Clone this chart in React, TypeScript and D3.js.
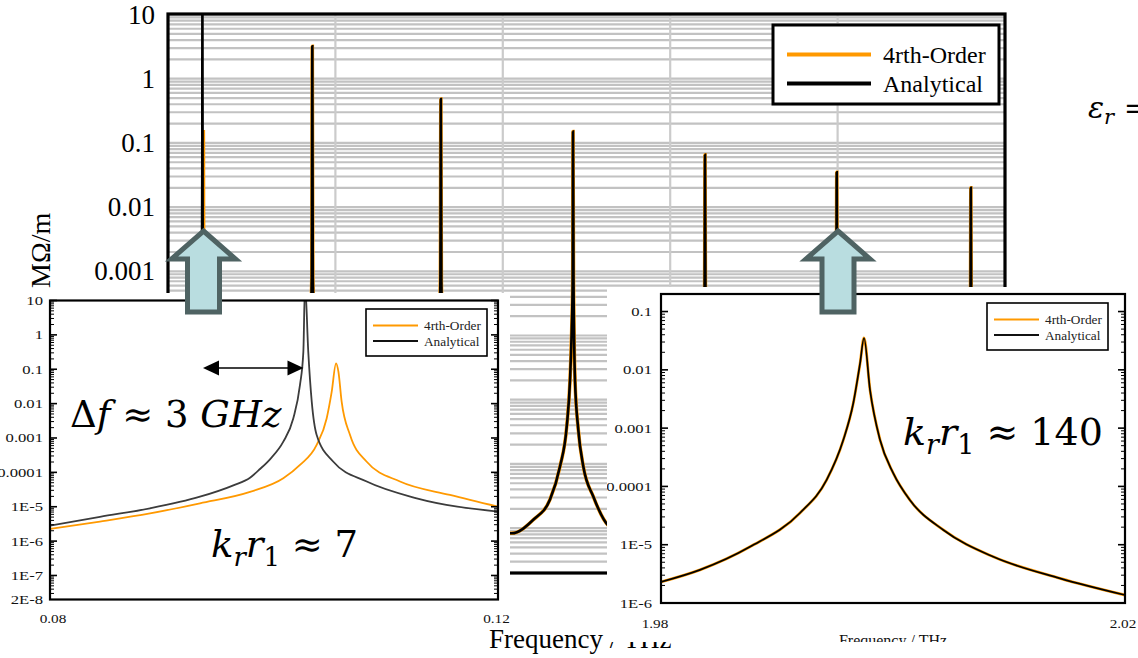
import React from "react";
import * as d3 from "d3";

type P = [number, number];

// ---------- Main chart (background) ----------
const mainYTickValues = [10, 1, 0.1, 0.01, 0.001, 1e-4, 1e-5, 1e-6, 1e-7];
const mainYTickLabels = ["10", "1", "0.1", "0.01", "0.001", "0.0001", "1E-5", "1E-6", "1E-7"];
const mainXTickValues = [0, 0.5, 1, 1.5, 2, 2.5];
const mainXTickLabels = ["0", "0.5", "1", "1.5", "2", "2.5"];
const mainGridX = [0.5, 1, 1.5, 2];
const seriesNames = ["4rth-Order", "Analytical"];
const seriesColors = ["#FF9900", "#000000"];

// [frequency THz, impedance MΩ/m]
const mainAnalytical: P[] = [
  [0.0, 3e-7], [0.06, 1.2e-6], [0.08, 2.8e-6], [0.0934, 1.96e-5], [0.0996, 2.4e-4],
  [0.1017, 3.7e-3], [0.1023, 0.035], [0.1028, 30], [0.1034, 0.0114], [0.1038, 1.2e-3],
  [0.1083, 5.4e-5], [0.12, 7.2e-6],
  [0.2, 5e-7], [0.32, 3e-7], [0.39, 1.2e-6], [0.42, 2.5e-5], [0.4295, 8e-4], [0.431, 3.2],
  [0.4325, 8e-4], [0.442, 2.5e-5], [0.48, 1.2e-6], [0.62, 1.5e-7], [0.77, 1e-6],
  [0.805, 2e-5], [0.8135, 7e-4], [0.815, 0.48], [0.8165, 7e-4], [0.825, 2e-5], [0.86, 1e-6],
  [1.0266, 8.3e-8], [1.0911, 1.35e-7], [1.141, 2.8e-7], [1.1708, 9.1e-7], [1.1909, 3.8e-6],
  [1.2007, 2e-5], [1.2058, 1.2e-4], [1.2088, 7.4e-4], [1.2097, 0.15], [1.2112, 7e-4],
  [1.2157, 2e-5], [1.2255, 3.4e-6], [1.2405, 9.1e-7], [1.2703, 3.1e-7], [1.3151, 1.1e-7],
  [1.42, 6e-8], [1.56, 1e-6], [1.595, 2e-5], [1.6028, 6e-4], [1.604, 0.065], [1.6052, 6e-4],
  [1.613, 2e-5], [1.65, 1e-6], [1.8, 5e-8], [1.95, 1.5e-6], [1.99, 2.5e-5], [1.9965, 1e-3],
  [1.9975, 0.035], [1.9985, 1e-3], [2.005, 2.5e-5], [2.04, 1.2e-6], [2.2, 4e-8],
  [2.35, 1e-6], [2.39, 2e-5], [2.397, 5e-4], [2.398, 0.02], [2.399, 5e-4], [2.406, 2e-5],
  [2.45, 1e-6], [2.5, 3e-7],
];
const mainFourthFirstPeak: P[] = [
  [0.0, 2.5e-7], [0.06, 1e-6], [0.08, 2.25e-6], [0.0934, 1.26e-5], [0.1008, 6.7e-5],
  [0.1038, 6.3e-4], [0.1047, 3.7e-3], [0.10515, 0.022], [0.1055, 0.149], [0.10575, 0.085],
  [0.106, 0.0114], [0.1068, 1.22e-3], [0.1083, 2e-4], [0.1113, 5.4e-5], [0.12, 1e-5],
];
const mainFourth: P[] = [...mainFourthFirstPeak, ...mainAnalytical.filter((d) => d[0] > 0.15)];

// ---------- Left inset (kr r1 ≈ 7) ----------
const leftYTickValues = [10, 1, 0.1, 0.01, 0.001, 1e-4, 1e-5, 1e-6, 1e-7, 2e-8];
const leftYTickLabels = ["10", "1", "0.1", "0.01", "0.001", "0.0001", "1E-5", "1E-6", "1E-7", "2E-8"];
const leftXTickValues = [0.08, 0.12];
const leftXTickLabels = ["0.08", "0.12"];
const leftAnalytical: P[] = [
  [0.08, 2.8e-6], [0.08446, 5.1e-6], [0.08893, 9e-6], [0.09339, 1.96e-5], [0.09637, 4.2e-5],
  [0.09786, 7e-5], [0.09875, 1.25e-4], [0.09964, 2.4e-4], [0.10083, 7.8e-4],
  [0.10172, 3.7e-3], [0.10232, 0.035], [0.10262, 0.32], [0.10277, 30], [0.10306, 0.32],
  [0.10337, 0.0114], [0.10381, 1.22e-3], [0.1053, 2.04e-4], [0.10828, 5.4e-5],
  [0.11274, 1.76e-5], [0.12, 7.2e-6],
];
const leftFourth: P[] = [
  [0.08, 2.25e-6], [0.08446, 3.7e-6], [0.08893, 6.4e-6], [0.09339, 1.26e-5], [0.09786, 2.7e-5],
  [0.10083, 6.7e-5], [0.10232, 1.64e-4], [0.10381, 6.3e-4],
  [0.1047, 3.7e-3], [0.10515, 0.022], [0.10554, 0.149], [0.10575, 0.085], [0.10604, 0.0114],
  [0.10679, 1.22e-3], [0.10828, 2.04e-4], [0.11125, 5.4e-5], [0.11571, 2.2e-5], [0.12, 1e-5],
];

// ---------- Right inset (kr r1 ≈ 140) ----------
const rightYTickValues = [0.1, 0.01, 0.001, 1e-4, 1e-5, 1e-6];
const rightYTickLabels = ["0.1", "0.01", "0.001", "0.0001", "1E-5", "1E-6"];
const rightXTickValues = [1.98, 2.02];
const rightXTickLabels = ["1.98", "2.02"];
const rightAnalytical: P[] = [
  [1.98, 2.3e-6], [1.98336, 3.7e-6], [1.98767, 9.2e-6], [1.99198, 3.5e-5], [1.99428, 1.29e-4],
  [1.99572, 6.3e-4], [1.99658, 2.7e-3], [1.99716, 0.0129], [1.9975, 0.0352], [1.99802, 4.5e-3],
  [1.99888, 6.3e-4], [2.00003, 1.68e-4], [2.00147, 5.8e-5], [2.00434, 1.79e-5],
  [2.00865, 6.2e-6], [2.0144, 2.65e-6], [2.02, 1.37e-6],
];
const rightFourth: P[] = rightAnalytical;

// ---------- scales ----------
const mainX = d3.scaleLinear().domain([0, 2.5]).range([168, 1005]);
const mainY = d3.scaleLog().domain([2e-8, 10]).range([573, 14.5]);
const lx = d3.scaleLinear().domain([0.08, 0.12]).range([50, 498]);
const ly = d3.scaleLog().domain([2e-8, 10]).range([599.5, 300.5]);
const rx = d3.scaleLinear().domain([1.98, 2.02]).range([661, 1125]);
const ry = d3.scaleLog().domain([1e-6, 0.2]).range([603, 294]);

const isDecade = (v: number) => Math.abs(Math.log10(v) - Math.round(Math.log10(v))) < 1e-6;

function mkLine(sx: any, sy: any, curve: any) {
  return d3.line<P>().x((d) => sx(d[0])).y((d) => sy(d[1])).curve(curve);
}

const serif = "'Liberation Serif', 'Times New Roman', serif";
const mathFont = "'DejaVu Serif', serif";

function UpArrow({ cx }: { cx: number }) {
  const tip = 231, base = 259, bottom = 312, hh = 32, sh = 16;
  const pts = [
    [cx, tip], [cx + hh, base], [cx + sh, base], [cx + sh, bottom],
    [cx - sh, bottom], [cx - sh, base], [cx - hh, base],
  ].map((p) => p.join(",")).join(" ");
  return <polygon points={pts} fill="#b9dde0" stroke="#4f6363" strokeWidth={5} strokeLinejoin="miter" />;
}

function InsetAxes({ sx, sy, x0, x1, y0, y1, yVals, yLabels, xVals, xLabels, xOffsets, labelRight, xLabelY }: any) {
  const ticks = sy.ticks();
  return (
    <g>
      {ticks.map((v: number, i: number) => {
        const y = sy(v);
        const len = isDecade(v) ? 7 : 4;
        const w = isDecade(v) ? 1.6 : 1;
        return (
          <g key={"t" + i}>
            <line x1={x0} x2={x0 + len} y1={y} y2={y} stroke="#000" strokeWidth={w} />
            <line x1={x1} x2={x1 - len} y1={y} y2={y} stroke="#000" strokeWidth={w} />
          </g>
        );
      })}
      <rect x={x0} y={y0} width={x1 - x0} height={y1 - y0} fill="none" stroke="#000" strokeWidth={2.2} />
      {yVals.map((v: number, i: number) => (
        <text key={"yl" + i} transform={`translate(${labelRight},${sy(v) + 4.5}) scale(1.28,1)`}
          textAnchor="end" fontFamily={serif} fontSize={13} fill="#111">{yLabels[i]}</text>
      ))}
      {xVals.map((v: number, i: number) => (
        <text key={"xl" + i} transform={`translate(${sx(v) + xOffsets[i]},${xLabelY}) scale(1.22,1)`}
          textAnchor="middle" fontFamily={serif} fontSize={12.5} fill="#111">{xLabels[i]}</text>
      ))}
    </g>
  );
}

function SmallLegend({ x, y }: { x: number; y: number }) {
  return (
    <g>
      <rect x={x} y={y} width={121} height={47} fill="#fff" stroke="#000" strokeWidth={1.6} />
      {seriesNames.map((n, i) => (
        <g key={n}>
          <line x1={x + 7} x2={x + 52} y1={y + 16.5 + i * 15.5} y2={y + 16.5 + i * 15.5}
            stroke={i === 0 ? seriesColors[0] : "#111"} strokeWidth={1.8} />
          <text x={x + 58} y={y + 21 + i * 15.5} fontFamily={serif} fontSize={13.3} fill="#222">{n}</text>
        </g>
      ))}
    </g>
  );
}

export default function App() {
  const mainLine = mkLine(mainX, mainY, d3.curveMonotoneX);
  const leftLine = mkLine(lx, ly, d3.curveMonotoneX);
  const rightLine = mkLine(rx, ry, d3.curveMonotoneX);
  const mainGridY = mainY.ticks();

  return (
    <div style={{ position: "absolute", left: 0, top: 0 }}>
      <svg width={1138} height={658} style={{ display: "block", background: "#fff" }}>
        <defs>
          <clipPath id="mainClip"><rect x={168} y={14.5} width={837} height={558.5} /></clipPath>
          <clipPath id="leftClip"><rect x={50} y={300.5} width={448} height={299} /></clipPath>
          <clipPath id="rightClip"><rect x={661} y={294} width={464} height={309} /></clipPath>
          <clipPath id="rightImg"><rect x={607} y={287} width={531} height={355} /></clipPath>
        </defs>

        {/* ===== Main chart ===== */}
        <g>
          {mainGridY.map((v, i) => (
            <line key={"gy" + i} x1={168} x2={1005} y1={mainY(v)} y2={mainY(v)} stroke="#c2c2c2" strokeWidth={2.2} />
          ))}
          {mainGridX.map((v, i) => (
            <line key={"gx" + i} x1={mainX(v)} x2={mainX(v)} y1={14.5} y2={573} stroke="#cbcbcb" strokeWidth={2.2} />
          ))}
          <g clipPath="url(#mainClip)">
            <path d={mainLine(mainFourth) || ""} fill="none" stroke={seriesColors[0]} strokeWidth={3.6} />
            <path d={mainLine(mainAnalytical) || ""} fill="none" stroke="#000" strokeWidth={2.6} />
          </g>
          <rect x={168} y={14} width={837} height={559} fill="none" stroke="#000" strokeWidth={3.2} />
          {mainYTickValues.map((v, i) => (
            <text key={"my" + i} x={155} y={mainY(v) + 9} textAnchor="end" fontFamily={serif} fontSize={27} fill="#000">
              {mainYTickLabels[i]}
            </text>
          ))}
          {mainXTickValues.map((v, i) => (
            <text key={"mx" + i} x={mainX(v)} y={604} textAnchor="middle" fontFamily={serif} fontSize={27} fill="#000">
              {mainXTickLabels[i]}
            </text>
          ))}
          <text transform="translate(50,288) rotate(-90)" fontFamily={serif} fontSize={28} fill="#000">MΩ/m</text>
          <text x={489} y={648} fontFamily={serif} fontSize={27} fill="#000">Frequency / THz</text>
          {/* main legend */}
          <rect x={773} y={25} width={226} height={79} fill="#fff" stroke="#000" strokeWidth={3} />
          <line x1={787} x2={871} y1={54.5} y2={54.5} stroke={seriesColors[0]} strokeWidth={4} />
          <line x1={787} x2={871} y1={83.5} y2={83.5} stroke="#000" strokeWidth={4} />
          <text x={883} y={63} fontFamily={serif} fontSize={24} fill="#000">{seriesNames[0]}</text>
          <text x={883} y={92} fontFamily={serif} fontSize={24} fill="#000">{seriesNames[1]}</text>
          {/* epsilon annotation */}
          <text x={1088} y={118} fontFamily={mathFont} fontSize={30} fill="#000" style={{ whiteSpace: "pre" }}>
            <tspan fontStyle="italic">ε</tspan>
            <tspan fontStyle="italic" fontSize={21} dy={6}>r</tspan>
            <tspan dy={-6}> =</tspan>
          </text>
        </g>

        {/* ===== Left inset ===== */}
        <g>
          <rect x={0} y={293} width={510} height={335} fill="#fff" />
          <g clipPath="url(#leftClip)">
            <path d={leftLine(leftFourth) || ""} fill="none" stroke={seriesColors[0]} strokeWidth={1.8} />
            <path d={leftLine(leftAnalytical) || ""} fill="none" stroke="#3c3c3c" strokeWidth={1.8} />
          </g>
          <InsetAxes sx={lx} sy={ly} x0={50} x1={498} y0={300.5} y1={599.5}
            yVals={leftYTickValues} yLabels={leftYTickLabels} xVals={leftXTickValues} xLabels={leftXTickLabels}
            xOffsets={[3, -1.5]} labelRight={43} xLabelY={623} />
          <SmallLegend x={366} y={309} />
          {/* Δf arrow */}
          <line x1={215} x2={290} y1={368} y2={368} stroke="#000" strokeWidth={1.6} />
          <polygon points="203,368 219,360.5 219,375.5" fill="#000" />
          <polygon points="303.5,368 287.5,360.5 287.5,375.5" fill="#000" />
          <text x={70} y={427} fontFamily={mathFont} fontSize={37} fill="#000" style={{ whiteSpace: "pre" }}>
            <tspan>Δ</tspan><tspan fontStyle="italic">f</tspan><tspan> ≈ 3 </tspan><tspan fontStyle="italic">GHz</tspan>
          </text>
          <text x={211} y={557} fontFamily={mathFont} fontSize={37} fill="#000" style={{ whiteSpace: "pre" }}>
            <tspan fontStyle="italic">k</tspan>
            <tspan fontStyle="italic" fontSize={26} dy={9}>r</tspan>
            <tspan fontStyle="italic" dy={-9}>r</tspan>
            <tspan fontSize={26} dy={9}>1</tspan>
            <tspan dy={-9}> ≈ 7</tspan>
          </text>
        </g>

        {/* ===== Right inset ===== */}
        <g clipPath="url(#rightImg)">
          <rect x={607} y={287} width={531} height={355} fill="#fff" />
          <g clipPath="url(#rightClip)">
            <path d={rightLine(rightFourth) || ""} fill="none" stroke={seriesColors[0]} strokeWidth={2.8} />
            <path d={rightLine(rightAnalytical) || ""} fill="none" stroke="#000" strokeWidth={1.7} />
          </g>
          <InsetAxes sx={rx} sy={ry} x0={661} x1={1125} y0={294} y1={603}
            yVals={rightYTickValues} yLabels={rightYTickLabels} xVals={rightXTickValues} xLabels={rightXTickLabels}
            xOffsets={[-6, -2]} labelRight={652} xLabelY={628} />
          <SmallLegend x={987} y={303} />
          <text x={893} y={646} textAnchor="middle" fontFamily={serif} fontSize={16} fill="#111">Frequency / THz</text>
          <text x={903} y={445} fontFamily={mathFont} fontSize={38} fill="#000" style={{ whiteSpace: "pre" }}>
            <tspan fontStyle="italic">k</tspan>
            <tspan fontStyle="italic" fontSize={27} dy={9}>r</tspan>
            <tspan fontStyle="italic" dy={-9}>r</tspan>
            <tspan fontSize={27} dy={9}>1</tspan>
            <tspan dy={-9}> ≈ 140</tspan>
          </text>
        </g>

        {/* ===== Arrows on top ===== */}
        <UpArrow cx={203.5} />
        <UpArrow cx={838} />
      </svg>
    </div>
  );
}
